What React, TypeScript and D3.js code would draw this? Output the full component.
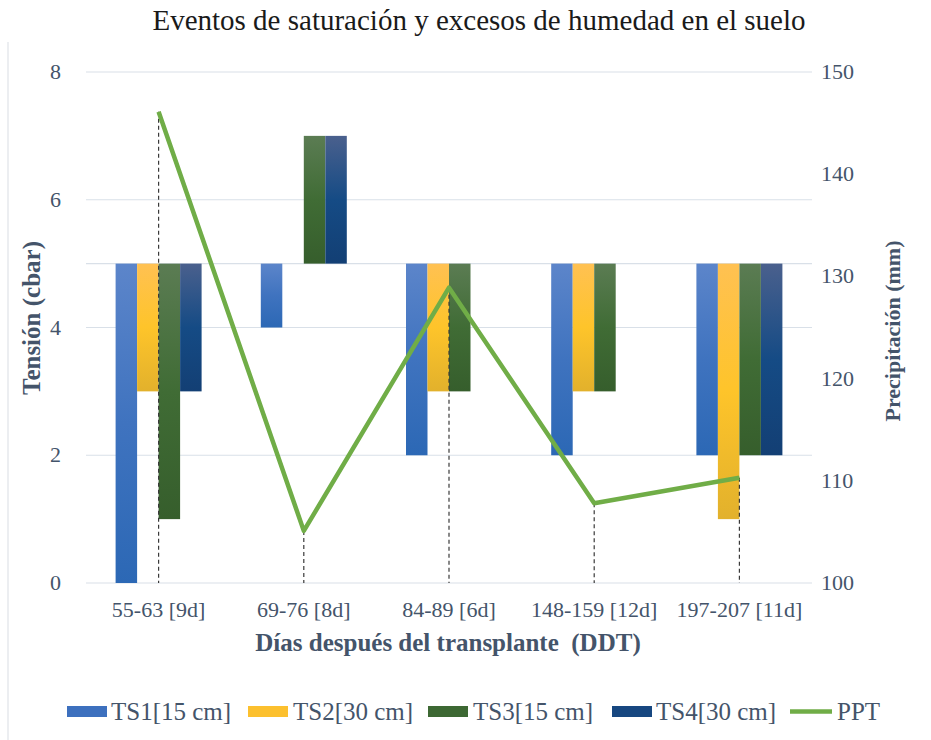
import React, { useEffect } from "react";
import * as d3 from "d3";

const categories = ["55-63 [9d]", "69-76 [8d]", "84-89 [6d]", "148-159 [12d]", "197-207 [11d]"];
const seriesNames = ["TS1[15 cm]", "TS2[30 cm]", "TS3[15 cm]", "TS4[30 cm]"];
// floating bars: [low, high] tension (cbar), null = no bar
const ts1: ([number, number] | null)[] = [[0, 5], [4, 5], [2, 5], [2, 5], [2, 5]];
const ts2: ([number, number] | null)[] = [[3, 5], null, [3, 5], [3, 5], [1, 5]];
const ts3: ([number, number] | null)[] = [[1, 5], [5, 7], [3, 5], [3, 5], [2, 5]];
const ts4: ([number, number] | null)[] = [[3, 5], [5, 7], null, null, [2, 5]];
const ppt = [146.1, 105.1, 128.9, 107.8, 110.3];
const leftTicks = [0, 2, 4, 6, 8];
const rightTicks = [100, 110, 120, 130, 140, 150];
const gridValues = [0, 2, 4, 5, 6, 8];

const gradStops = [
  ["#5c85ca", "#3f73bf", "#2c68b5"],
  ["#ffc152", "#fec42a", "#e2b12c"],
  ["#5b7c53", "#406c35", "#365e2c"],
  ["#4a608d", "#154b85", "#133f74"],
];
const legendColors = ["#3d70be", "#fcc02e", "#3d6833", "#174780"];
const textColor = "#44546a";
const serif = "'Liberation Serif', 'Times New Roman', serif";

export default function App() {
  useEffect(() => {
    document.body.style.margin = "0";
  }, []);
  const W = 931, H = 740;
  const x = d3.scaleBand<string>().domain(categories).range([86, 812]);
  const sub = d3.scaleBand<string>().domain(seriesNames).range([-43, 43]);
  const yL = d3.scaleLinear().domain([0, 8]).range([583, 72]);
  const yR = d3.scaleLinear().domain([100, 150]).range([583, 72]);
  const all = [ts1, ts2, ts3, ts4];
  const cx = (c: string) => (x(c) as number) + x.bandwidth() / 2;
  const line = d3
    .line<number>()
    .x((_, i) => cx(categories[i]))
    .y((v) => yR(v));

  const legendItems = [
    { sx: 67, tx: 111 },
    { sx: 248, tx: 293 },
    { sx: 428, tx: 473 },
    { sx: 612, tx: 656 },
  ];

  return (
    <svg width={W} height={H} style={{ display: "block" }} fontFamily={serif}>
      <defs>
        {gradStops.map((s, i) => (
          <linearGradient key={i} id={`g${i}`} x1="0" y1="0" x2="0" y2="1">
            <stop offset="0%" stopColor={s[0]} />
            <stop offset="50%" stopColor={s[1]} />
            <stop offset="100%" stopColor={s[2]} />
          </linearGradient>
        ))}
      </defs>
      <rect x={0} y={0} width={W} height={H} fill="#fff" />
      <line x1={8} x2={8} y1={42} y2={H} stroke="#d9dde3" strokeWidth={1} />
      <text x={479} y={30} textAnchor="middle" fontSize={29} fill="#1a1a1a">
        Eventos de saturación y excesos de humedad en el suelo
      </text>
      {gridValues.map((v) => (
        <line key={v} x1={86} x2={812} y1={yL(v)} y2={yL(v)} stroke="#d9e0e8" strokeWidth={1.2} />
      ))}
      {leftTicks.map((v) => (
        <text key={v} x={61} y={yL(v) + 7} textAnchor="end" fontSize={22} fill={textColor}>
          {v}
        </text>
      ))}
      {rightTicks.map((v) => (
        <text key={v} x={821} y={yR(v) + 7} textAnchor="start" fontSize={22} fill={textColor}>
          {v}
        </text>
      ))}
      {categories.map((c) => (
        <text key={c} x={cx(c)} y={617} textAnchor="middle" fontSize={22} fill={textColor}>
          {c}
        </text>
      ))}
      {all.map((s, si) =>
        s.map((d, ci) =>
          d ? (
            <rect
              key={`${si}-${ci}`}
              x={cx(categories[ci]) + (sub(seriesNames[si]) as number)}
              width={sub.bandwidth()}
              y={yL(d[1])}
              height={yL(d[0]) - yL(d[1])}
              fill={`url(#g${si})`}
            />
          ) : null
        )
      )}
      {ppt.map((v, i) => (
        <line
          key={i}
          x1={cx(categories[i])}
          x2={cx(categories[i])}
          y1={yR(v)}
          y2={yR(100)}
          stroke="#3a3a3a"
          strokeWidth={1.2}
          strokeDasharray="4,3"
        />
      ))}
      <path d={line(ppt) || ""} fill="none" stroke="#70ad47" strokeWidth={4.5} strokeLinejoin="round" />
      <text
        transform={`translate(40,${318}) rotate(-90)`}
        textAnchor="middle"
        fontSize={25}
        fontWeight="bold"
        fill={textColor}
      >
        Tensión (cbar)
      </text>
      <text
        transform={`translate(900,${331}) rotate(-90)`}
        textAnchor="middle"
        fontSize={22}
        fontWeight="bold"
        fill={textColor}
      >
        Precipitación (mm)
      </text>
      <text
        x={448}
        y={651}
        textAnchor="middle"
        fontSize={25}
        fontWeight="bold"
        fill={textColor}
        style={{ whiteSpace: "pre" }}
      >
        {"Días después del transplante  (DDT)"}
      </text>
      {seriesNames.map((n, i) => (
        <g key={n}>
          <rect x={legendItems[i].sx} y={706} width={40} height={11} fill={legendColors[i]} />
          <text x={legendItems[i].tx} y={720} fontSize={25} fill={textColor}>
            {n}
          </text>
        </g>
      ))}
      <line x1={790} x2={832} y1={711.5} y2={711.5} stroke="#70ad47" strokeWidth={4.5} />
      <text x={837} y={720} fontSize={25} fill={textColor}>
        PPT
      </text>
    </svg>
  );
}
